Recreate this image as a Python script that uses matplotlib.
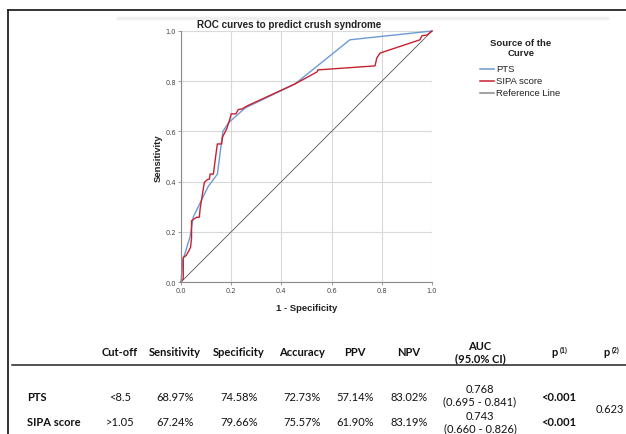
import matplotlib
matplotlib.use("Agg")
import matplotlib.pyplot as plt
from matplotlib.lines import Line2D

W, H = 626, 435

# ---- data ----
pts_fpr = [0, 0.007, 0.036, 0.049, 0.108, 0.145, 0.167, 0.19, 0.255, 0.454, 0.673, 1.0]
pts_tpr = [0, 0.085, 0.18, 0.259, 0.38, 0.43, 0.60, 0.635, 0.693, 0.789, 0.965, 1.0]

sipa_fpr = [0, 0.009, 0.009, 0.02, 0.029, 0.038, 0.042, 0.042, 0.062, 0.073, 0.076, 0.093,
            0.105, 0.113, 0.116, 0.129, 0.142, 0.145, 0.162, 0.165, 0.182, 0.195, 0.2,
            0.219, 0.228, 0.245, 0.26, 0.454, 0.542, 0.545, 0.773, 0.78, 0.793, 0.952,
            0.96, 0.98, 1.0]
sipa_tpr = [0, 0.012, 0.098, 0.105, 0.12, 0.138, 0.174, 0.244, 0.258, 0.258, 0.29, 0.397,
            0.408, 0.41, 0.43, 0.43, 0.53, 0.55, 0.55, 0.576, 0.61, 0.65, 0.67,
            0.67, 0.687, 0.69, 0.70, 0.789, 0.837, 0.845, 0.861, 0.892, 0.912, 0.965,
            0.981, 0.984, 1.0]

ref_line = [0, 1]
ticks = [0.0, 0.2, 0.4, 0.6, 0.8, 1.0]

series_names = ["PTS", "SIPA score", "Reference Line"]

table_cols = ["Cut-off", "Sensitivity", "Specificity", "Accuracy", "PPV", "NPV"]
table_rows = ["PTS", "SIPA score"]
cutoffs = ["<8.5", ">1.05"]
sensitivity = ["68.97%", "67.24%"]
specificity = ["74.58%", "79.66%"]
accuracy = ["72.73%", "75.57%"]
ppv = ["57.14%", "61.90%"]
npv = ["83.02%", "83.19%"]
auc = ["0.768", "0.743"]
auc_ci = ["(0.695 - 0.841)", "(0.660 - 0.826)"]
p1 = ["<0.001", "<0.001"]
p2 = "0.623"

BLUE = "#6a9bd2"
RED = "#c8202f"

fig = plt.figure(figsize=(W / 100, H / 100), dpi=100)


def fx(x):
    return x / W


def fy(y):
    return 1 - y / H


# frame lines
fig.add_artist(Line2D([fx(8), fx(626)], [fy(11), fy(11)], color="#222222", lw=1.3))
fig.add_artist(Line2D([fx(8), fx(8)], [fy(11), fy(435)], color="#222222", lw=1.3))
fig.add_artist(Line2D([fx(118), fx(607)], [fy(19), fy(19)], color="#efefef", lw=2.5))

# ---- ROC axes ----
ax = fig.add_axes([fx(181), fy(283), 251 / W, 251 / H])
ax.set_xlim(0, 1)
ax.set_ylim(0, 1)
for s in ["top", "right"]:
    ax.spines[s].set_visible(False)
for s in ["left", "bottom"]:
    ax.spines[s].set_color("#8a8a8a")
    ax.spines[s].set_linewidth(0.8)
ax.set_xticks(ticks)
ax.set_yticks(ticks)
ax.set_xticklabels([f"{t:.1f}" for t in ticks])
ax.set_yticklabels([f"{t:.1f}" for t in ticks])
ax.tick_params(length=2, width=0.6, color="#8a8a8a", labelsize=4.8, labelcolor="#444444", pad=1.5)
ax.grid(True, color="#d9d9d9", lw=0.8)
ax.set_axisbelow(True)

ax.plot(ref_line, ref_line, color="#555555", lw=0.6, clip_on=False)
ax.plot(pts_fpr, pts_tpr, color=BLUE, lw=1.0, clip_on=False)
ax.plot(sipa_fpr, sipa_tpr, color=RED, lw=1.0, clip_on=False)

plot_font = "Liberation Sans"
fig.text(fx(289), fy(25), "ROC curves to predict crush syndrome", ha="center", va="center",
         fontsize=7.1, fontweight="bold", family=plot_font, color="#222222")
fig.text(fx(158), fy(158), "Sensitivity", ha="center", va="center", rotation=90,
         fontsize=6.8, fontweight="bold", family=plot_font, color="#222222")
fig.text(fx(307), fy(309), "1 - Specificity", ha="center", va="center",
         fontsize=6.8, fontweight="bold", family=plot_font, color="#222222")

# legend
fig.text(fx(521), fy(44), "Source of the", ha="center", va="center", fontsize=6.8,
         fontweight="bold", family=plot_font, color="#222222")
fig.text(fx(521), fy(54), "Curve", ha="center", va="center", fontsize=6.8,
         fontweight="bold", family=plot_font, color="#222222")
leg_colors = [BLUE, RED, "#888888"]
for i, (name, c) in enumerate(zip(series_names, leg_colors)):
    yy = 70 + i * 12
    fig.add_artist(Line2D([fx(480), fx(494)], [fy(yy), fy(yy)], color=c, lw=1.1))
    fig.text(fx(496), fy(yy), name, ha="left", va="center", fontsize=6.8,
             family=plot_font, color="#222222")

# ---- table ----
tf = "Lato"
tsize = 8
col_x = [120, 175, 239, 302, 355, 409]
hy = 353
for name, x in zip(table_cols, col_x):
    fig.text(fx(x), fy(hy), name, ha="center", va="center", fontsize=tsize,
             fontweight="bold", family=tf, color="#111111")
fig.text(fx(480), fy(347), "AUC", ha="center", va="center", fontsize=tsize,
         fontweight="bold", family=tf, color="#111111")
fig.text(fx(480), fy(359), "(95.0% CI)", ha="center", va="center", fontsize=tsize,
         fontweight="bold", family=tf, color="#111111")
for x, lab in [(560, "(1)"), (612, "(2)")]:
    fig.text(fx(x - 2), fy(hy), "p", ha="right", va="center", fontsize=tsize,
             fontweight="bold", family=tf, color="#111111")
    fig.text(fx(x), fy(hy - 3), lab, ha="left", va="center", fontsize=5,
             fontweight="bold", family=tf, color="#111111")

fig.add_artist(Line2D([fx(12), fx(626)], [fy(366), fy(366)], color="#222222", lw=1.1))

row_y = [398, 423]
auc_y = [(390, 402), (417, 429)]
for i, ry in enumerate(row_y):
    fig.text(fx(27), fy(ry), table_rows[i], ha="left", va="center", fontsize=tsize,
             fontweight="bold", family=tf, color="#111111")
    vals = [cutoffs[i], sensitivity[i], specificity[i], accuracy[i], ppv[i], npv[i]]
    for v, x in zip(vals, col_x):
        fig.text(fx(x), fy(ry), v, ha="center", va="center", fontsize=tsize,
                 family=tf, color="#111111")
    fig.text(fx(480), fy(auc_y[i][0]), auc[i], ha="center", va="center", fontsize=tsize,
             family=tf, color="#111111")
    fig.text(fx(480), fy(auc_y[i][1]), auc_ci[i], ha="center", va="center", fontsize=tsize,
             family=tf, color="#111111")
    fig.text(fx(559), fy(ry), p1[i], ha="center", va="center", fontsize=tsize,
             fontweight="bold", family=tf, color="#111111")
fig.text(fx(610), fy(410), p2, ha="center", va="center", fontsize=tsize,
         family=tf, color="#111111")

fig.savefig("out.png", dpi=100, facecolor="white")
